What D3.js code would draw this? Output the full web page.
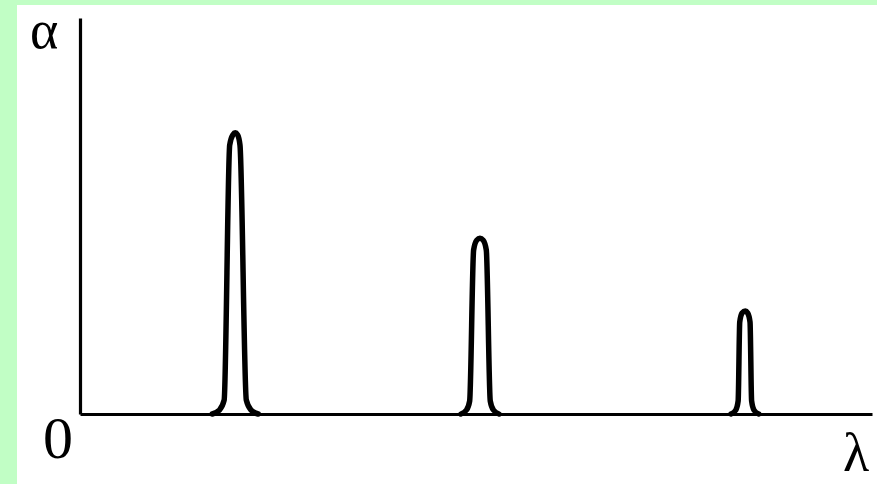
<!DOCTYPE html>
<html><head><meta charset="utf-8">
<script src="https://cdn.jsdelivr.net/npm/d3@7"></script>
<style>html,body{margin:0;padding:0;background:#fff;overflow:hidden}</style>
</head><body>
<svg id="chart" width="877" height="484"></svg>
<script>
// Data (λ and α in arbitrary units 0..100)
const peak1Lambda = [16.7, 17.6, 18.2, 18.9, 19.3, 19.6, 19.9, 20.2, 21.0, 21.6, 22.5];
const peak1Alpha  = [0, 1.0, 3.5, 67.9, 70.5, 71.0, 70.5, 67.9, 3.5, 1.0, 0];
const peak2Lambda = [48.1, 48.8, 49.2, 49.7, 50.1, 50.5, 50.9, 51.3, 51.8, 52.2, 52.9];
const peak2Alpha  = [0, 1.0, 3.3, 41.4, 43.9, 44.4, 43.9, 41.4, 3.3, 1.0, 0];
const peak3Lambda = [82.2, 82.8, 83.1, 83.3, 83.6, 84.0, 84.3, 84.6, 84.8, 85.1, 85.7];
const peak3Alpha  = [0, 1.0, 3.3, 23.2, 25.5, 26.0, 25.5, 23.2, 3.3, 1.0, 0];
const axisLabels = {y: "α", x: "λ", origin: "0"};

const svg = d3.select("#chart");
// frame: light green strips on top and left
svg.append("rect").attr("x",0).attr("y",0).attr("width",877).attr("height",484).attr("fill","#fff");
svg.append("rect").attr("x",0).attr("y",0).attr("width",877).attr("height",5).attr("fill","#c1fec5");
svg.append("rect").attr("x",0).attr("y",0).attr("width",17).attr("height",484).attr("fill","#c1fec5");

const x = d3.scaleLinear().domain([0,100]).range([80,872]);
const y = d3.scaleLinear().domain([0,100]).range([414,18]);

const gx = svg.append("g").attr("transform",`translate(0,${y(0)})`)
  .call(d3.axisBottom(x).tickValues([]).tickSizeOuter(0));
const gy = svg.append("g").attr("transform",`translate(${x(0)},0)`)
  .call(d3.axisLeft(y).tickValues([]).tickSizeOuter(0));
[gx,gy].forEach(g=>g.select(".domain").attr("stroke","#000").attr("stroke-width",3.2));

const peaks = [
  d3.zip(peak1Lambda, peak1Alpha),
  d3.zip(peak2Lambda, peak2Alpha),
  d3.zip(peak3Lambda, peak3Alpha)
];
const line = d3.line().x(d=>x(d[0])).y(d=>y(d[1])).curve(d3.curveMonotoneX);
svg.selectAll("path.peak").data(peaks).join("path")
  .attr("class","peak")
  .attr("d",line)
  .attr("fill","none")
  .attr("stroke","#000")
  .attr("stroke-width",5.5)
  .attr("stroke-linejoin","round")
  .attr("stroke-linecap","round");

const font = "'Liberation Serif','DejaVu Serif',serif";
svg.append("text").attr("x",30).attr("y",48).attr("font-family",font).attr("font-size",54).text(axisLabels.y);
svg.append("text").attr("x",43).attr("y",458).attr("font-family",font).attr("font-size",60).text(axisLabels.origin);
svg.append("text").attr("x",843).attr("y",471).attr("font-family",font).attr("font-size",54).text(axisLabels.x);
</script>
</body></html>
